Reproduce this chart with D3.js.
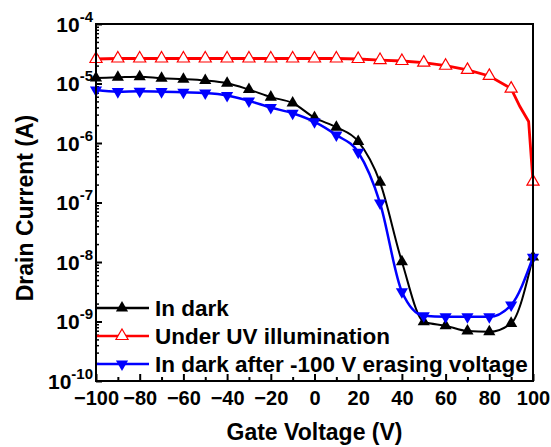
<!DOCTYPE html>
<html>
<head>
<meta charset="utf-8">
<script src="https://cdn.jsdelivr.net/npm/d3@7"></script>
<style>
  body { margin: 0; background: #fff; }
  text { font-family: Arial, "Liberation Sans", sans-serif; font-weight: bold; }
</style>
</head>
<body>
<svg id="chart" width="551" height="447"></svg>
<script>
// Gate voltage sweep (V), one marker every 10 V
const gateV = [-100, -90, -80, -70, -60, -50, -40, -30, -20, -10, 0,
               10, 20, 30, 40, 50, 60, 70, 80, 90, 100];

// Drain current (A)
const darkI = [1.24e-5, 1.27e-5, 1.30e-5, 1.22e-5, 1.18e-5, 1.12e-5, 1.01e-5, 7.9e-6, 5.9e-6, 4.7e-6, 2.66e-6,
               1.84e-6, 1.06e-6, 2.18e-7, 1.01e-8, 9.9e-10, 8.5e-10, 6.9e-10, 6.7e-10, 9.3e-10, 1.21e-8];
const uvI = [2.58e-5, 2.63e-5, 2.63e-5, 2.63e-5, 2.63e-5, 2.63e-5, 2.63e-5, 2.63e-5, 2.63e-5, 2.63e-5, 2.63e-5,
             2.63e-5, 2.58e-5, 2.48e-5, 2.39e-5, 2.24e-5, 1.99e-5, 1.69e-5, 1.34e-5, 8.2e-6, 2.24e-7];
const erasedI = [7.8e-6, 7.3e-6, 7.4e-6, 7.3e-6, 7.1e-6, 6.9e-6, 6.3e-6, 5.1e-6, 3.94e-6, 3.17e-6, 2.27e-6,
                 1.36e-6, 6.98e-7, 9.8e-8, 3.17e-9, 1.25e-9, 1.2e-9, 1.2e-9, 1.2e-9, 1.89e-9, 1.2e-8];

// extra points on the UV curve between the last two markers (line only)
const uvExtraV = [94, 98];
const uvExtraI = [4.1e-6, 2.3e-6];

const xTicks = [-100, -80, -60, -40, -20, 0, 20, 40, 60, 80, 100];
const xMinorTicks = [-90, -70, -50, -30, -10, 10, 30, 50, 70, 90];
const yExponents = [-10, -9, -8, -7, -6, -5, -4];

const legendLabels = ["In dark", "Under UV illumination", "In dark after -100 V erasing voltage"];

const plotL = 96, plotR = 533, plotT = 24, plotB = 381;

const svg = d3.select("#chart");

const x = d3.scaleLinear().domain([-100, 100]).range([plotL, plotR]);
const y = d3.scaleLog().domain([1e-10, 1e-4]).range([plotB, plotT]);

// x axis: major + minor inward ticks
const xAxis = svg.append("g")
    .attr("transform", `translate(0,${plotB})`)
    .call(d3.axisBottom(x).tickValues(xTicks).tickSize(-7).tickPadding(10).tickFormat(d3.format("d")));
xAxis.select(".domain").remove();
xAxis.selectAll("line").attr("stroke", "#000").attr("stroke-width", 2);
xAxis.selectAll("text").attr("font-size", 20).attr("fill", "#000");

const xMinor = svg.append("g")
    .attr("transform", `translate(0,${plotB})`)
    .call(d3.axisBottom(x).tickValues(xMinorTicks).tickSize(-4).tickFormat(""));
xMinor.select(".domain").remove();
xMinor.selectAll("line").attr("stroke", "#000").attr("stroke-width", 2);

// y axis: decades with superscript labels, minor ticks 2..9
const yMajor = yExponents.map(e => Math.pow(10, e));
const yMinorVals = [];
yExponents.slice(0, -1).forEach(e => {
  for (let k = 2; k <= 9; k++) yMinorVals.push(k * Math.pow(10, e));
});

const yAxis = svg.append("g")
    .attr("transform", `translate(${plotL},0)`)
    .call(d3.axisLeft(y).tickValues(yMajor).tickSize(-6).tickPadding(3).tickFormat(""));
yAxis.select(".domain").remove();
yAxis.selectAll("line").attr("stroke", "#000").attr("stroke-width", 2);
yAxis.selectAll(".tick text").each(function(d) {
  const t = d3.select(this).attr("fill", "#000").attr("dy", null).attr("y", 7);
  t.append("tspan").attr("font-size", 21).text("10");
  t.append("tspan").attr("font-size", 15).attr("dy", -10).text(Math.round(Math.log10(d)));
});

const yMinor = svg.append("g")
    .attr("transform", `translate(${plotL},0)`)
    .call(d3.axisLeft(y).tickValues(yMinorVals).tickSize(-3).tickFormat(""));
yMinor.select(".domain").remove();
yMinor.selectAll("line").attr("stroke", "#000").attr("stroke-width", 1.5);

// axis titles
svg.append("text")
    .attr("x", (plotL + plotR) / 2).attr("y", 440)
    .attr("text-anchor", "middle").attr("font-size", 23)
    .text("Gate Voltage (V)");

svg.append("text")
    .attr("transform", "translate(33,208) rotate(-90)")
    .attr("text-anchor", "middle").attr("font-size", 23)
    .text("Drain Current (A)");

// series
const tri = d3.symbol().type(d3.symbolTriangle).size(64);

const smooth = d3.line().x(d => x(d[0])).y(d => y(d[1])).curve(d3.curveMonotoneX);
const straight = d3.line().x(d => x(d[0])).y(d => y(d[1]));

const uvLinePts = gateV.map((v, i) => [v, uvI[i]])
    .concat(uvExtraV.map((v, i) => [v, uvExtraI[i]]))
    .sort((a, b) => a[0] - b[0]);

const series = [
  { pts: gateV.map((v, i) => [v, darkI[i]]), line: smooth, color: "#000", width: 2, fill: "#000", rot: 0, stroke: "none" },
  { pts: uvLinePts, marks: gateV.map((v, i) => [v, uvI[i]]), line: straight, color: "#ff0000", width: 2.8, fill: "#fff", rot: 0, stroke: "#ff0000" },
  { pts: gateV.map((v, i) => [v, erasedI[i]]), line: smooth, color: "#0000ff", width: 2.5, fill: "#0000ff", rot: 180, stroke: "none" }
];

// draw UV first, then dark, then erased on top
[1, 0, 2].forEach(k => {
  const s = series[k];
  svg.append("path")
      .attr("d", s.line(s.pts))
      .attr("fill", "none").attr("stroke", s.color).attr("stroke-width", s.width);
  svg.append("g").selectAll("path")
      .data(s.marks || s.pts)
      .join("path")
      .attr("d", tri)
      .attr("transform", d => `translate(${x(d[0])},${y(d[1])}) rotate(${s.rot})`)
      .attr("fill", s.fill).attr("stroke", s.stroke).attr("stroke-width", 1.2);
});

// legend
const legendY = [308, 336, 364];
series.forEach((s, i) => {
  const g = svg.append("g").attr("transform", `translate(0,${legendY[i]})`);
  g.append("line").attr("x1", 97).attr("x2", 149).attr("y1", 0).attr("y2", 0)
      .attr("stroke", s.color).attr("stroke-width", 2.5);
  g.append("path").attr("d", tri)
      .attr("transform", `translate(122,0) rotate(${s.rot})`)
      .attr("fill", s.fill).attr("stroke", s.stroke).attr("stroke-width", 1.2);
  g.append("text").attr("x", 155).attr("y", 8).attr("font-size", 22.5).attr("fill", "#000")
      .text(legendLabels[i]);
});

// frame
svg.append("rect")
    .attr("x", plotL).attr("y", plotT)
    .attr("width", plotR - plotL).attr("height", plotB - plotT)
    .attr("fill", "none").attr("stroke", "#000").attr("stroke-width", 2);
</script>
</body>
</html>
